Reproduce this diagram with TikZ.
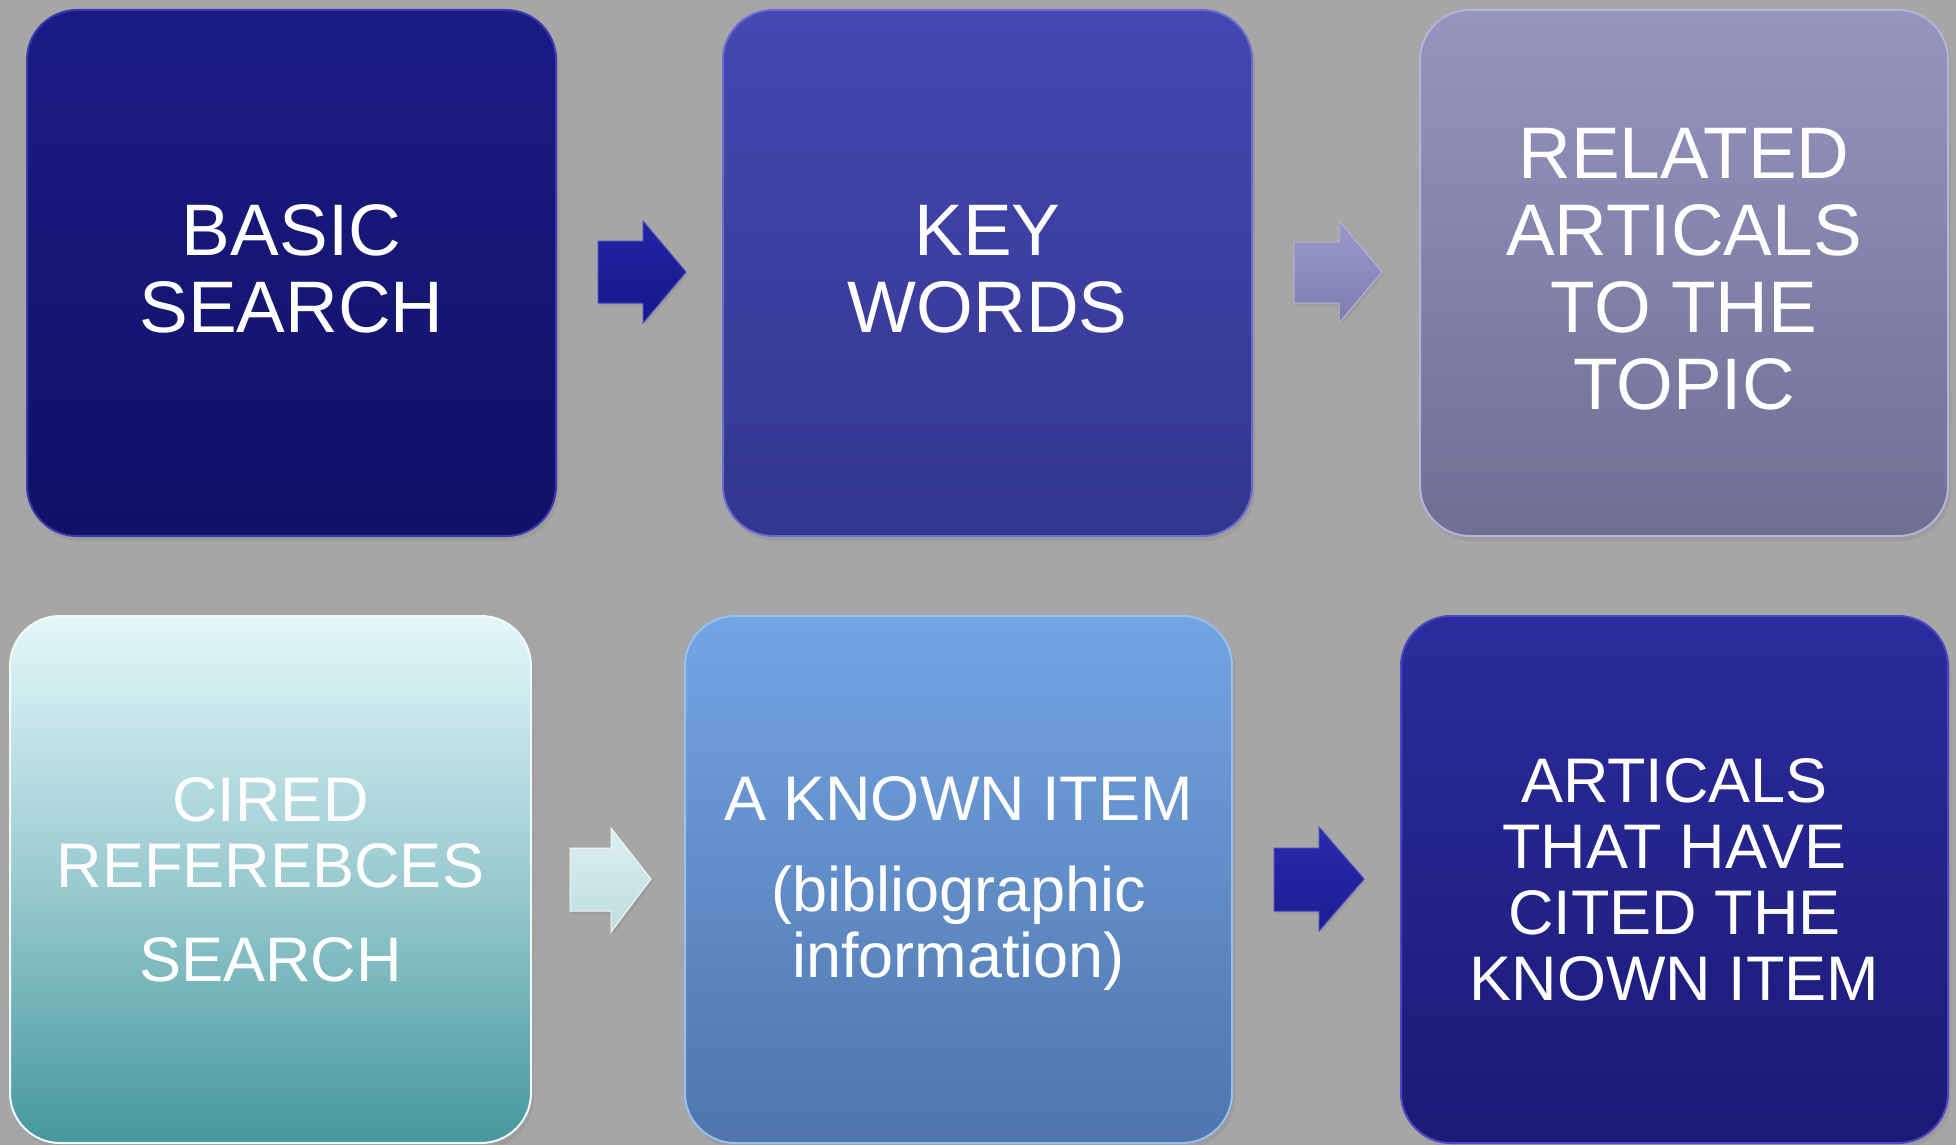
\documentclass[tikz,border=0pt]{standalone}
\usepackage{fontspec}
\setmainfont{Liberation Sans}
\usetikzlibrary{shadows}
\definecolor{bg}{HTML}{A6A6A6}
\definecolor{bAt}{HTML}{1B1B86}\definecolor{bAb}{HTML}{111166}\definecolor{bAr}{HTML}{3A3AB0}
\definecolor{bBt}{HTML}{4547B2}\definecolor{bBb}{HTML}{33368E}\definecolor{bBr}{HTML}{6A6CD0}
\definecolor{bCt}{HTML}{9595BF}\definecolor{bCb}{HTML}{6F6F94}\definecolor{bCr}{HTML}{B4B4D8}
\definecolor{bDt}{HTML}{E3F7F9}\definecolor{bDm}{HTML}{9ACBD0}\definecolor{bDb}{HTML}{45989D}\definecolor{bDr}{HTML}{F0FAFB}
\definecolor{bEt}{HTML}{73A5E3}\definecolor{bEb}{HTML}{4F75AC}\definecolor{bEr}{HTML}{96C0F0}
\definecolor{bFt}{HTML}{2C2C9E}\definecolor{bFb}{HTML}{1A1A76}\definecolor{bFr}{HTML}{4848C0}
\definecolor{aAt}{HTML}{2424A4}\definecolor{aAb}{HTML}{16168A}
\definecolor{aBt}{HTML}{9A9ACA}\definecolor{aBb}{HTML}{7E7EAE}
\definecolor{aCt}{HTML}{DCEFF1}\definecolor{aCb}{HTML}{BEDDE0}
\definecolor{aDt}{HTML}{2A2AAE}\definecolor{aDb}{HTML}{1C1C92}
\tikzset{
  card/.style={rectangle, rounded corners=50pt, inner sep=0pt, align=center,
    text=white, line width=2pt,
    drop shadow={shadow xshift=3pt, shadow yshift=-5pt, opacity=0.25}},
  bigtext/.style={font=\fontsize{73}{77}\selectfont, text depth=9pt},
  smalltext/.style={font=\fontsize{63}{66}\selectfont},
  barrow/.style={line width=1pt,
    drop shadow={shadow xshift=2pt, shadow yshift=-3pt, opacity=0.25}}
}
\begin{document}
\begin{tikzpicture}[x=1pt,y=-1pt]
\fill[bg] (0,0) rectangle (1956,1145);
\useasboundingbox (0,0) rectangle (1956,1145);

\node[card, bigtext, minimum width=529pt, minimum height=526pt,
  top color=bAt, bottom color=bAb, draw=bAr] (b1) at (291.5,273) {BASIC\\SEARCH};
\node[card, bigtext, minimum width=529pt, minimum height=526pt,
  top color=bBt, bottom color=bBb, draw=bBr] (b2) at (987.5,273) {KEY\\WORDS};
\node[card, bigtext, minimum width=528pt, minimum height=526pt,
  top color=bCt, bottom color=bCb, draw=bCr] (b3) at (1684,273) {RELATED\\ARTICALS\\TO THE\\TOPIC};

\node[card, smalltext, minimum width=521pt, minimum height=527pt,
  top color=bDt, bottom color=bDb, middle color=bDm, draw=bDr] (b4) at (270.5,879.5) {CIRED\\REFEREBCES\\[28pt]SEARCH};
\node[card, smalltext, text depth=5pt, minimum width=547pt, minimum height=527pt,
  top color=bEt, bottom color=bEb, draw=bEr] (b5) at (958.5,879.5) {A KNOWN ITEM\\[25pt](bibliographic\\information)};
\node[card, smalltext, minimum width=547pt, minimum height=527pt,
  top color=bFt, bottom color=bFb, draw=bFr] (b6) at (1674.5,879.5) {ARTICALS\\THAT HAVE\\CITED THE\\KNOWN ITEM};

% block arrows
\draw[barrow, top color=aAt, bottom color=aAb, draw=bFr]
  (598,241) -- (643,241) -- (643,221) -- (686,272) -- (643,323) -- (643,303) -- (598,303) -- cycle;
\draw[barrow, top color=aBt, bottom color=aBb, draw=bCr]
  (1294,242) -- (1339,242) -- (1339,221) -- (1382,272) -- (1339,323) -- (1339,303) -- (1294,303) -- cycle;
\draw[barrow, top color=aCt, bottom color=aCb, draw=bDr]
  (570,848) -- (611,848) -- (611,828) -- (651,879) -- (611,932) -- (611,911) -- (570,911) -- cycle;
\draw[barrow, top color=aDt, bottom color=aDb, draw=bFr]
  (1274,848) -- (1319,848) -- (1319,827) -- (1364,879) -- (1319,931) -- (1319,911) -- (1274,911) -- cycle;
\end{tikzpicture}
\end{document}
